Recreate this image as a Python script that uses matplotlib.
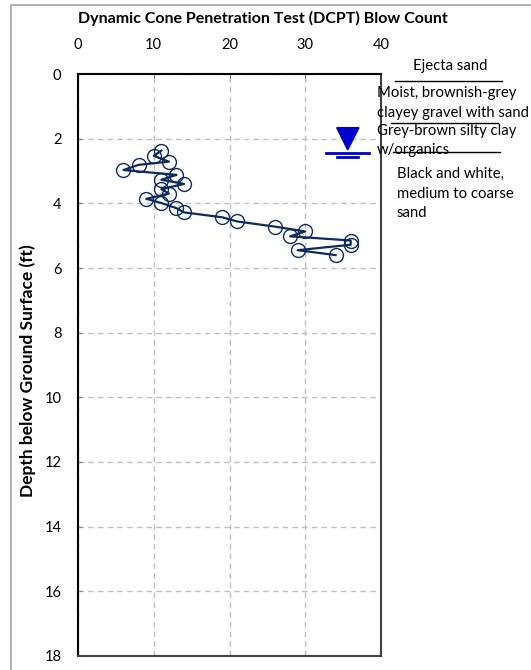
import matplotlib.pyplot as plt
from matplotlib.lines import Line2D
from matplotlib.patches import Polygon, Rectangle

plt.rcParams['font.family'] = ['Lato', 'DejaVu Sans']

# DCPT blow counts and the depth of each reading (ft)
blows = [11, 10, 12, 8, 6, 13, 11, 14, 11, 12, 9, 11, 13, 14, 19, 21, 26, 30, 28, 36, 36, 29, 34]
depth = [2.37, 2.53, 2.71, 2.81, 2.97, 3.12, 3.27, 3.40, 3.56, 3.70, 3.86, 3.99,
         4.15, 4.28, 4.43, 4.56, 4.72, 4.87, 5.02, 5.15, 5.28, 5.45, 5.60]

water_depth = 2.43
x_ticks = [0, 10, 20, 30, 40]
y_ticks = [0, 2, 4, 6, 8, 10, 12, 14, 16, 18]

W, H = 531, 670
fig = plt.figure(figsize=(W / 100, H / 100), dpi=100)


def fx(px):
    return px / W


def fy(py):
    return 1 - py / H


# outer chart border
fig.patches.append(Rectangle((fx(11), fy(700)), fx(600), fy(5) - fy(700),
                             transform=fig.transFigure, fill=False,
                             edgecolor='#A6A6A6', linewidth=1.2))

ax = fig.add_axes([fx(78), fy(656), fx(381) - fx(78), fy(74) - fy(656)])
ax.plot(blows, depth, '-', color='#0F2A5F', linewidth=1.6, zorder=3)
ax.plot(blows, depth, 'o', mfc='none', mec='#0F2A5F', mew=1.0, ms=10, zorder=4)

ax.set_xlim(0, 40)
ax.set_ylim(18, 0)
ax.set_xticks(x_ticks)
ax.set_yticks(y_ticks)
ax.xaxis.tick_top()
ax.tick_params(axis='both', labelsize=10.5, length=3, direction='in', color='#808080')
ax.tick_params(axis='y', pad=12)
ax.tick_params(axis='x', pad=16)
ax.grid(True, color='#BFBFBF', linestyle=(0, (4, 3)), linewidth=1)
ax.set_axisbelow(True)
for side in ['left', 'top']:
    ax.spines[side].set_color('black')
    ax.spines[side].set_linewidth(1.5)
for side in ['right', 'bottom']:
    ax.spines[side].set_color('#404040')
    ax.spines[side].set_linewidth(1.5)

ax.set_ylabel('Depth below Ground Surface (ft)', fontsize=12.5, fontweight='bold')
ax.yaxis.set_label_coords(-0.138, 0.49)
fig.text(fx(263), fy(18), 'Dynamic Cone Penetration Test (DCPT) Blow Count',
         ha='center', va='center', fontsize=11.5, fontweight='bold')

# groundwater symbol
ax.add_patch(Polygon([[34.15, 1.66], [37.1, 1.66], [35.6, 2.35]], closed=True,
                     color='#0000CC', clip_on=False, zorder=5))
ax.plot([32.7, 38.4], [water_depth, water_depth], color='#0000CC', lw=2, clip_on=False)
ax.plot([34.15, 37.0], [2.57, 2.57], color='#0000CC', lw=2, clip_on=False)

# soil layer descriptions
fs = 10.7
fig.text(fx(450), fy(66), 'Ejecta sand', ha='center', va='center', fontsize=fs)
fig.text(fx(377), fy(93), 'Moist, brownish-grey', ha='left', va='center', fontsize=fs)
fig.text(fx(377), fy(113), 'clayey gravel with sand', ha='left', va='center', fontsize=fs)
fig.text(fx(377), fy(131), 'Grey-brown silty clay', ha='left', va='center', fontsize=fs)
fig.text(fx(377), fy(150), 'w/organics', ha='left', va='center', fontsize=fs)
fig.text(fx(397), fy(174), 'Black and white,', ha='left', va='center', fontsize=fs)
fig.text(fx(397), fy(194), 'medium to coarse', ha='left', va='center', fontsize=fs)
fig.text(fx(397), fy(213), 'sand', ha='left', va='center', fontsize=fs)

# layer boundaries
for x0, x1, yy in [(395, 502, 81), (391, 498, 123), (393, 500, 152)]:
    fig.lines.append(Line2D([fx(x0), fx(x1)], [fy(yy), fy(yy)], transform=fig.transFigure,
                            color='black', linewidth=1))

fig.savefig('out.png', dpi=100)
